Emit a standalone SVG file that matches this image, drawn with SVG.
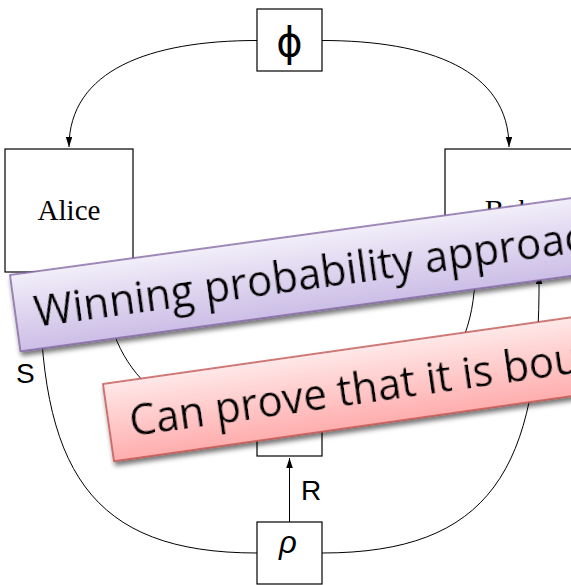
<svg xmlns="http://www.w3.org/2000/svg" width="571" height="585" viewBox="0 0 571 585">
  <defs>
    <marker id="arr" markerUnits="userSpaceOnUse" markerWidth="11" markerHeight="8" refX="10" refY="3.25" orient="auto">
      <path d="M0,0 L10,3.25 L0,6.5 z" fill="#000"/>
    </marker>
    <linearGradient id="gPurple" x1="0" y1="0" x2="0" y2="1">
      <stop offset="0" stop-color="#f2eef9"/>
      <stop offset="1" stop-color="#ccbee6"/>
    </linearGradient>
    <linearGradient id="gRed" x1="0" y1="0" x2="0" y2="1">
      <stop offset="0" stop-color="#ffe8e8"/>
      <stop offset="1" stop-color="#ffadad"/>
    </linearGradient>
    <filter id="shadow" x="-10%" y="-20%" width="130%" height="160%">
      <feGaussianBlur in="SourceAlpha" stdDeviation="2.5"/>
      <feOffset dx="1" dy="4" result="b"/>
      <feComponentTransfer><feFuncA type="linear" slope="0.55"/></feComponentTransfer>
      <feMerge><feMergeNode/><feMergeNode in="SourceGraphic"/></feMerge>
    </filter>
    <style>
      .box { fill: #fff; stroke: #000; stroke-width: 1.2; }
      .conn { fill: none; stroke: #000; stroke-width: 1; }
      .serif { font-family: "Liberation Serif", "Times New Roman", serif; font-size: 29px; }
      .sans { font-family: "Liberation Sans", Arial, sans-serif; }
      .callout { font-family: "Open Sans", "Liberation Sans", sans-serif; font-size: 43px; fill: #000; }
    </style>
  </defs>

  <g id="connectors">
    <path class="conn" d="M257,40.5 C150,40.5 69,70 69,147" marker-end="url(#arr)"/>
    <path class="conn" d="M322,40.5 C429,40.5 509,70 509,147" marker-end="url(#arr)"/>
    <path class="conn" d="M257,553 C90,553 38,470 40,272"/>
    <path class="conn" d="M322,553 C489,553 541,470 539,274" marker-end="url(#arr)"/>
    <path class="conn" d="M104,272 C104,380 180,425 257,425"/>
    <path class="conn" d="M475,272 C475,380 399,425 322,425"/>
    <path class="conn" d="M289.5,522 L289.5,458" marker-end="url(#arr)"/>
    <text class="sans" x="16" y="383" font-size="28">S</text>
    <text class="sans" x="301" y="500" font-size="28">R</text>
  </g>

  <g id="phi">
    <rect class="box" x="257" y="9" width="65" height="62"/>
    <text x="289.5" y="56" font-family="'DejaVu Sans', sans-serif" font-size="40" text-anchor="middle">ϕ</text>
  </g>
  <g id="alice">
    <rect class="box" x="5" y="149" width="128" height="123"/>
    <text class="serif" x="69" y="220" text-anchor="middle">Alice</text>
  </g>
  <g id="bob">
    <rect class="box" x="445" y="149" width="128" height="123"/>
    <text class="serif" x="509" y="220" text-anchor="middle">Bob</text>
  </g>
  <g id="middle">
    <rect class="box" x="257" y="394" width="65" height="62"/>
  </g>
  <g id="rho">
    <rect class="box" x="257" y="522" width="65" height="62"/>
    <text class="sans" x="288" y="553" font-size="31" font-style="italic" text-anchor="middle">ρ</text>
  </g>

  <g id="callout-purple" transform="translate(10,275) rotate(-7.8)" filter="url(#shadow)">
    <rect x="0" y="0" width="700" height="77" fill="url(#gPurple)" stroke="#8064a2" stroke-width="1.5"/>
    <text class="callout" x="19" y="54.6" textLength="555" lengthAdjust="spacingAndGlyphs">Winning probability approac</text>
  </g>
  <g id="callout-red" transform="translate(103,384) rotate(-8.1)" filter="url(#shadow)">
    <rect x="0" y="0" width="600" height="78" fill="url(#gRed)" stroke="#c0504d" stroke-width="1.5"/>
    <text class="callout" x="21" y="56" textLength="454" lengthAdjust="spacingAndGlyphs">Can prove that it is bou</text>
  </g>
</svg>
